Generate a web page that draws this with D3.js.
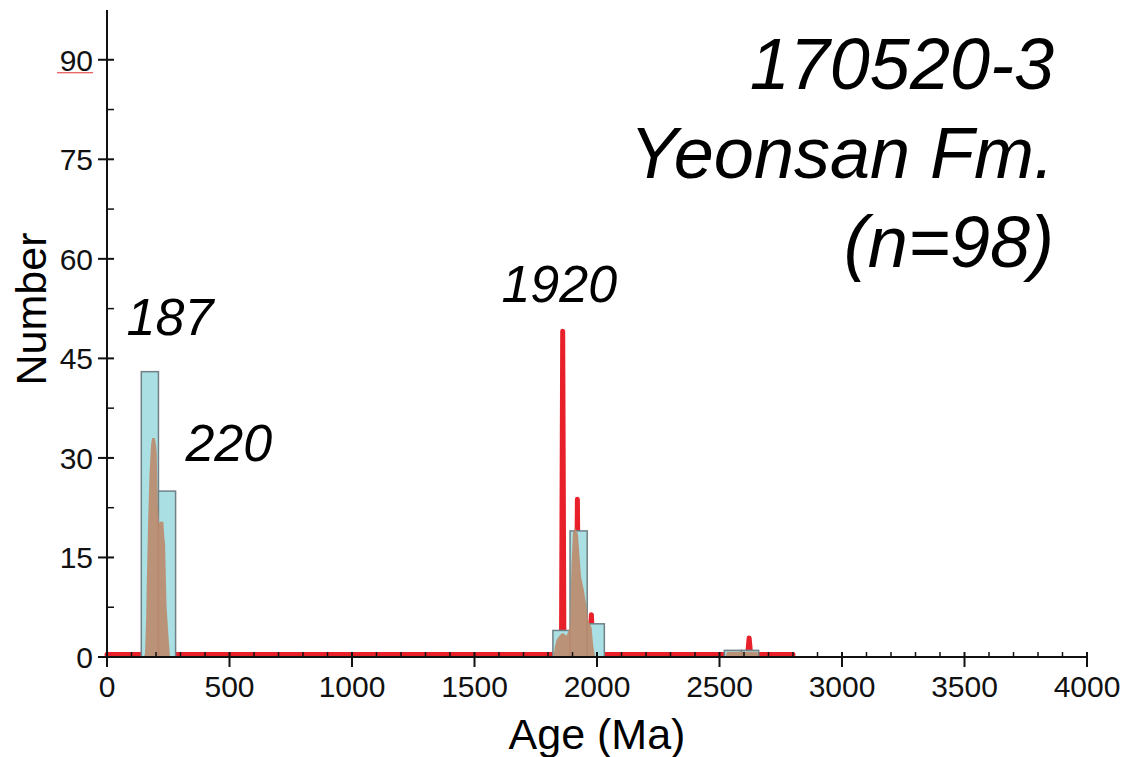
<!DOCTYPE html>
<html>
<head>
<meta charset="utf-8">
<script src="https://cdn.jsdelivr.net/npm/d3@7"></script>
<style>
  body { margin: 0; background: #fff; }
  svg text { font-family: "Liberation Sans", Arial, sans-serif; }
</style>
</head>
<body>
<svg id="chart"></svg>
<script>
// histogram bins (Ma), counts
var binWidth = 70;
var binStarts = [140, 210, 1820, 1890, 1960, 2520, 2590];
var binCounts = [43, 25, 4, 19, 5, 1, 1];

// brown density (age, number)
var kdeAges = [150, 155, 160, 162, 168, 174, 180, 184, 195, 200, 203, 207, 212, 216, 230, 234, 237, 243, 250, 257,
    1822, 1828, 1835, 1849, 1860, 1876, 1890, 1896, 1902, 1910, 1922, 1935, 1947, 1957, 1964, 1978, 1985, 1992,
    2525, 2530, 2655, 2660];
var kdeVals = [0, 0.5, 6, 10.6, 20.7, 28, 32, 33, 33, 32, 30.7, 23, 20.2, 20.4, 20.4, 18, 17, 7.6, 3.6, 0,
    0, 1.5, 2.6, 3.3, 3.6, 3.2, 4.6, 14, 18.7, 19.5, 18.5, 12, 10, 7.6, 5.6, 4.4, 1.6, 0,
    0, 0.8, 0.8, 0];
var kdeGroups = [20, 18, 4];

// red probability curve (age, number)
var pdpAges = [0, 1855, 1860, 1865, 1915, 1920, 1925, 1970, 1977, 1984, 2615, 2621, 2627, 2800];
var pdpVals = [0, 0, 48.7, 0, 0, 23.4, 0, 0, 6.0, 0, 0, 2.5, 0, 0];

// peak labels
var peakLabels = ["187", "220", "1920"];
var peakAges = [80, 320, 1610];
var peakNums = [48.5, 29.5, 53.5];

var titleLines = ["170520-3", "Yeonsan Fm.", "(n=98)"];

var width = 1129,
    height = 757;

var svg = d3.select("svg#chart")
    .attr("width", width)
    .attr("height", height);

var x = d3.scaleLinear().domain([0, 4000]).range([107, 1087]);
var y = d3.scaleLinear().domain([0, 97.5]).range([657, 10]);

// red curve
var pdp = pdpAges.map(function(a, i) { return [a, pdpVals[i]]; });
svg.append("path")
    .datum(pdp)
    .attr("transform", "translate(0,-2.5)")
    .attr("fill", "none")
    .attr("stroke", "#e8202a")
    .attr("stroke-width", 5)
    .attr("stroke-linejoin", "round")
    .attr("stroke-linecap", "round")
    .attr("d", d3.line()
        .x(function(d) { return x(d[0]); })
        .y(function(d) { return y(d[1]); }));

// bars
var bins = binStarts.map(function(s, i) { return { x0: s, x1: s + binWidth, n: binCounts[i] }; });
svg.append("g")
    .selectAll("rect")
    .data(bins)
    .enter()
    .append("rect")
    .attr("x", function(d) { return x(d.x0); })
    .attr("y", function(d) { return y(d.n); })
    .attr("width", function(d) { return x(d.x1) - x(d.x0); })
    .attr("height", function(d) { return y(0) - y(d.n); })
    .attr("fill", "#aadfe3")
    .attr("stroke", "#6f8186")
    .attr("stroke-width", 1.5);

// brown density
var kde = [], k = 0;
kdeGroups.forEach(function(g) {
    kde.push(kdeAges.slice(k, k + g).map(function(a, i) { return [a, kdeVals[k + i]]; }));
    k += g;
});
svg.append("g")
    .selectAll("path")
    .data(kde)
    .enter()
    .append("path")
    .attr("fill", "#bb8a6c")
    .attr("fill-opacity", 0.9)
    .attr("d", d3.area()
        .x(function(d) { return x(d[0]); })
        .y0(y(0))
        .y1(function(d) { return y(d[1]); }));

// axes
var xAxis = svg.append("g");
xAxis.append("line")
    .attr("x1", x(0) - 7).attr("x2", x(4000))
    .attr("y1", y(0)).attr("y2", y(0))
    .attr("stroke", "#111").attr("stroke-width", 2);
xAxis.selectAll("line.minor")
    .data(d3.range(100, 4000, 100).filter(function(d) { return d % 500; }))
    .enter().append("line")
    .attr("class", "minor")
    .attr("x1", function(d) { return x(d); }).attr("x2", function(d) { return x(d); })
    .attr("y1", y(0) - 5).attr("y2", y(0))
    .attr("stroke", "#111").attr("stroke-width", 1.5);
xAxis.selectAll("line.major")
    .data(d3.range(0, 4001, 500))
    .enter().append("line")
    .attr("class", "major")
    .attr("x1", function(d) { return x(d); }).attr("x2", function(d) { return x(d); })
    .attr("y1", y(0) - 5).attr("y2", y(0) + 10)
    .attr("stroke", "#111").attr("stroke-width", 2);
xAxis.selectAll("text")
    .data(d3.range(0, 4001, 500))
    .enter().append("text")
    .attr("x", function(d) { return x(d); })
    .attr("y", 697)
    .attr("text-anchor", "middle")
    .attr("font-size", 30)
    .attr("fill", "#111")
    .text(function(d) { return d; });

var yAxis = svg.append("g");
yAxis.append("line")
    .attr("x1", x(0)).attr("x2", x(0))
    .attr("y1", y(0) + 10).attr("y2", y(97.5))
    .attr("stroke", "#111").attr("stroke-width", 2);
yAxis.selectAll("line.minor")
    .data(d3.range(7.5, 97.5, 15))
    .enter().append("line")
    .attr("class", "minor")
    .attr("x1", x(0)).attr("x2", x(0) + 7)
    .attr("y1", function(d) { return y(d); }).attr("y2", function(d) { return y(d); })
    .attr("stroke", "#111").attr("stroke-width", 1.5);
yAxis.selectAll("line.major")
    .data(d3.range(0, 91, 15))
    .enter().append("line")
    .attr("class", "major")
    .attr("x1", x(0) - 9).attr("x2", x(0) + 7)
    .attr("y1", function(d) { return y(d); }).attr("y2", function(d) { return y(d); })
    .attr("stroke", "#111").attr("stroke-width", 2);
yAxis.selectAll("text")
    .data(d3.range(0, 91, 15))
    .enter().append("text")
    .attr("x", 93)
    .attr("y", function(d) { return y(d) + 11; })
    .attr("text-anchor", "end")
    .attr("font-size", 30)
    .attr("fill", "#111")
    .text(function(d) { return d; });

// spellcheck underline under 90
yAxis.append("line")
    .attr("x1", 57).attr("x2", 93)
    .attr("y1", y(90) + 13).attr("y2", y(90) + 13)
    .attr("stroke", "#e53030").attr("stroke-width", 1);

// axis titles
svg.append("text")
    .attr("x", x(2000))
    .attr("y", 749)
    .attr("text-anchor", "middle")
    .attr("font-size", 43)
    .text("Age (Ma)");

svg.append("text")
    .attr("transform", "translate(46,309) rotate(-90)")
    .attr("text-anchor", "middle")
    .attr("font-size", 43)
    .text("Number");

// peak labels
svg.selectAll("text.peak")
    .data(peakLabels)
    .enter().append("text")
    .attr("class", "peak")
    .attr("x", function(d, i) { return x(peakAges[i]); })
    .attr("y", function(d, i) { return y(peakNums[i]); })
    .attr("font-size", 52)
    .attr("font-style", "italic")
    .text(function(d) { return d; });

// sample title
svg.selectAll("text.title")
    .data(titleLines)
    .enter().append("text")
    .attr("class", "title")
    .attr("x", 1054)
    .attr("y", function(d, i) { return 89 + i * 89; })
    .attr("text-anchor", "end")
    .attr("font-size", 72)
    .attr("font-style", "italic")
    .text(function(d) { return d; });
</script>
</body>
</html>
